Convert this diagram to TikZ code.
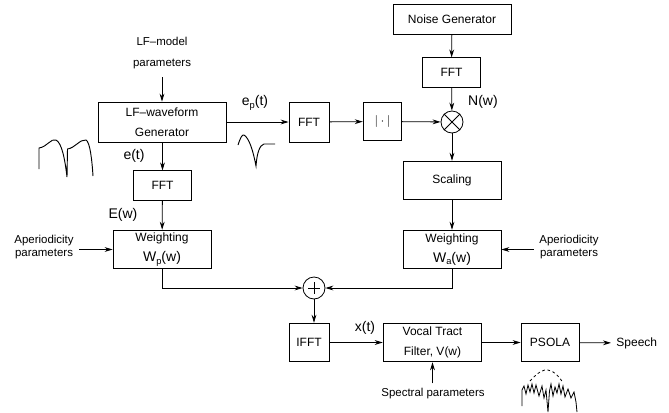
\documentclass[tikz,border=0pt]{standalone}
\usepackage{fontspec}
\setmainfont{Liberation Sans}
\usetikzlibrary{arrows.meta}

\tikzset{every picture/.style={line width=0.6pt}}
\tikzset{
  block/.style 2 args={draw, align=center, inner sep=0pt, minimum width=#1, minimum height=#2, font=\fontsize{9}{15}\selectfont},
  sumnode/.style={draw, circle, minimum size=16.5pt, inner sep=0pt},
  lbl/.style={font=\fontsize{10.5}{12}\selectfont, inner sep=1pt},
  parlbl/.style={align=center, font=\fontsize{8.6}{10}\selectfont, inner sep=3.75pt},
  arr/.style={-{Stealth[length=6pt,width=3.6pt]}},
}
\newcommand{\lowsub}[1]{\raisebox{-0.35ex}{\fontsize{7}{7}\selectfont #1}}

\begin{document}
\begin{tikzpicture}[x=0.75pt,y=0.75pt,yscale=-1,xscale=1]
	\useasboundingbox (0,0) rectangle (669,412);

	%Shape: Blocks
	\node [block={96pt}{30pt}] (lfgen) at (162,122) {LF--waveform\\Generator};
	\node [block={30pt}{30pt}] (fftp) at (309,122) {FFT};
	\node [block={29pt}{29pt}] (absv) at (382.5,121.5) {$|\cdot|$};
	\node [block={88.5pt}{22.5pt}] (noise) at (452,19) {Noise Generator};
	\node [block={44pt}{22pt}] (fftn) at (451.5,72.5) {FFT};
	\node [sumnode] (mult) at (452,122) {};
	\draw (mult.45) -- (mult.225) (mult.135) -- (mult.315);
	\node [block={44pt}{22pt}] (ffte) at (162.5,185.5) {FFT};
	\node [block={73.5pt}{29pt}] (scal) at (452,180.5) {Scaling};
	\node [block={73.5pt}{29pt}] (wp) at (162,249.5) {Weighting\\{\fontsize{10.5}{12}\selectfont W\lowsub{p}(w)}};
	\node [block={73.5pt}{29pt}] (wa) at (452,249.5) {Weighting\\{\fontsize{10.5}{12}\selectfont W\lowsub{a}(w)}};
	\node [sumnode] (plus) at (314,288) {};
	\draw ([yshift=-4.5pt]plus.center) -- ([yshift=4.5pt]plus.center) ([xshift=-4.5pt]plus.center) -- ([xshift=4.5pt]plus.center);
	\node [block={30pt}{29pt}] (ifft) at (309,342.5) {IFFT};
	\node [block={74pt}{29pt}] (vocal) at (432.5,342.5) {Vocal Tract\\Filter, V(w)};
	\node [block={43.5pt}{29pt}] (psola) at (550,342.5) {PSOLA};

	% Text Node
	\node [parlbl, font=\fontsize{8.6}{16}\selectfont] (lfpar) at (162,53) {LF--model\\parameters};
	\node [parlbl] (apleft) at (44,247) {Aperiodicity\\parameters};
	\node [parlbl] (apright) at (569,247) {Aperiodicity\\parameters};
	\node [parlbl] (spec) at (433,394) {Spectral parameters};
	\node [parlbl, font=\fontsize{9}{10}\selectfont, anchor=west] (speech) at (611,343) {Speech};
	\node [lbl] (eplbl) at (255,103) {e\lowsub{p}(t)};
	\node [lbl] (elbl) at (134,156) {e(t)};
	\node [lbl] (Elbl) at (123,215) {E(w)};
	\node [lbl] (Nlbl) at (483,102) {N(w)};
	\node [lbl] (xlbl) at (365,328) {x(t)};

	%Straight Lines
	\draw [arr, shorten <=2pt] (lfpar.south) -- (lfgen.north);
	\draw [arr] (lfgen) -- (fftp);
	\draw [arr] (fftp) -- (absv);
	\draw [arr] (absv) -- (mult);
	\draw [arr] (noise) -- (fftn);
	\draw [arr] (fftn) -- (mult);
	\draw [arr] (mult) -- (scal);
	\draw [arr] (scal) -- (wa);
	\draw [arr] (lfgen.south -| ffte.north) -- (ffte.north);
	\draw [arr] (ffte) -- (wp);
	\draw [arr] (apleft.east |- wp.west) -- (wp.west);
	\draw [arr] (apright.west |- wa.east) -- (wa.east);
	\draw [arr] (wp.south) |- (plus.west);
	\draw [arr] (wa.south) |- (plus.east);
	\draw [arr] (plus.south) -- (plus.south |- ifft.north);
	\draw [arr] (ifft) -- (vocal);
	\draw [arr] (vocal) -- (psola);
	\draw [arr] (psola) -- (speech);
	\draw [arr] (spec.north -| vocal.south) -- (vocal.south);

	%Waveform: LF pulses
	\draw [line width=0.7pt] (39,169) -- (39,148) .. controls (47,147) and (51,138) .. (56,140) .. controls (62,143) and (65,160) .. (67,177) -- (67.5,149) .. controls (75,148) and (80,139) .. (86,140) .. controls (90,142) and (92,160) .. (93,176);
	%Waveform: single pulse derivative
	\draw [line width=0.7pt] (238,145) .. controls (240,139) and (242,134) .. (244,135) .. controls (249,138) and (253,150) .. (256,166) .. controls (257,152) and (260,145) .. (264,144) -- (275,144);
	%Waveform: speech spectrum
	\draw [dash pattern={on 2pt off 2pt}] (530,381) .. controls (538,372) and (544,369) .. (548,370) .. controls (554,371) and (559,376) .. (563,383);
	\draw [line width=0.6pt] (522,406) -- (522,390) -- (524,386) -- (526,394) -- (528,385) -- (530,392) -- (532,384) -- (534,393) -- (536,385) -- (539,396) -- (542,386) -- (544,398) -- (546,390) -- (548,412) -- (549.5,391) -- (551,384) -- (553,396) -- (555,387) -- (557,393) -- (559,384) -- (561,394) -- (563,386) -- (565,397) -- (568,389) -- (571,398) -- (574,392) -- (576,402) -- (577,412);
\end{tikzpicture}
\end{document}
